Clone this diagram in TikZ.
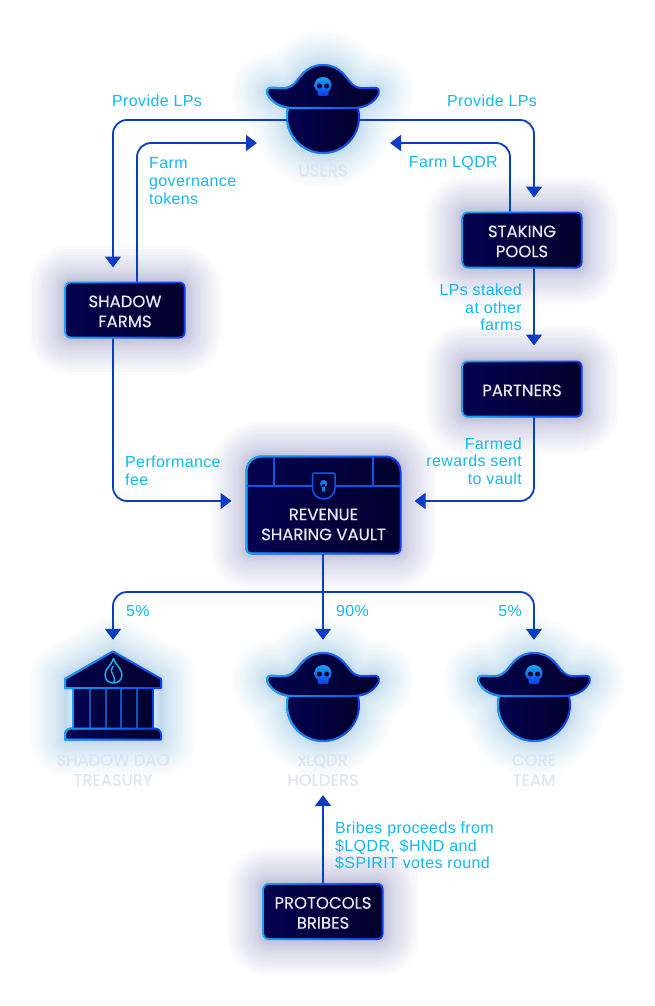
\documentclass[tikz,border=0pt]{standalone}
\usepackage{fontspec}
\setmainfont{Liberation Sans}
\newfontfamily\boxfont[FakeBold=0.35]{Poppins}
\newfontfamily\labfont[LetterSpace=2.4]{Liberation Sans}
\usetikzlibrary{arrows.meta,fadings,calc}
\definecolor{linec}{HTML}{0B3CC4}
\definecolor{labc}{HTML}{12B8F0}
\definecolor{ghost}{HTML}{E2E3F2}
\definecolor{boxtxt}{HTML}{E9E9F6}
\definecolor{darkL}{HTML}{04024F}
\definecolor{darkR}{HTML}{01012B}
\definecolor{edgeL}{HTML}{18A4EC}
\definecolor{edgeR}{HTML}{0F3BF0}
\definecolor{glowbox}{HTML}{2B2B9A}
\definecolor{glowblue}{HTML}{2A80E0}
\definecolor{flame}{HTML}{12B5EA}
\definecolor{vline}{HTML}{0C55F0}
\tikzset{
  x=1pt,y=-1pt,
  conn/.style={draw=linec,line width=1.8pt,rounded corners=14pt,-{Triangle[length=11pt,width=16pt]}},
  lab/.style={font=\labfont\fontsize{16}{17.6}\selectfont,text=labc,inner sep=0pt},
  ghostlab/.style={font=\boxfont\fontsize{16.5}{20}\selectfont,text=ghost,inner sep=0pt,align=center},
  boxout/.style={rectangle,rounded corners=6pt,left color=edgeL,right color=edgeR,inner sep=0pt,outer sep=0pt},
  boxin/.style={rectangle,rounded corners=4.4pt,left color=darkL,right color=darkR,inner sep=0pt,outer sep=0pt},
  boxtext/.style={inner sep=0pt,font=\boxfont\fontsize{16.5}{20}\selectfont,text=boxtxt,align=center},
  hole/.style={circle,inner sep=0pt,minimum size=72pt},
  edge2/.style={line width=2pt,line join=round}
}
\newcommand\gpath[1]{%
  \fill[left color=darkL,right color=darkR] #1;
  \draw[edge2,edgeR] #1;
  \draw[edge2,edgeL,path fading=east] #1;
}
\def\glowlist{2,3,5,7,9,12,15,18,21,25,29,33,38,43,48,54,60,66,72}
\newcommand\glowpath[2]{%
  \foreach \w in \glowlist {\draw[line width=\w pt,#1,opacity=0.015,line join=round] #2;}
}
\def\hatpath{(-53,-29) .. controls (-46,-30) and (-36,-26) .. (-29,-33) .. controls (-23,-39) and (-17,-52) .. (0,-52) .. controls (17,-52) and (23,-39) .. (29,-33) .. controls (36,-26) and (46,-30) .. (53,-29) .. controls (56,-29) and (56.5,-25) .. (55,-22) .. controls (50,-13) and (40,-9) .. (30,-9) -- (-30,-9) .. controls (-40,-9) and (-50,-13) .. (-55,-22) .. controls (-56.5,-25) and (-56,-29) .. (-53,-29) -- cycle}
\def\headpath{(0,0) circle[radius=36]}
\newcommand\pirate[2]{%
  \begin{scope}[shift={(#1,#2)}]
    \glowpath{glowblue}{\headpath \hatpath}
    \gpath{\headpath}
    \gpath{\hatpath}
    \fill[top color=edgeL,bottom color=edgeR,middle color=edgeL!50!edgeR]
      (0,-40) .. controls (-5.5,-40) and (-8.5,-36) .. (-8.5,-32) .. controls (-8.5,-28.5) and (-7,-26.5) .. (-5.5,-25.5) -- (-5.5,-22.5) .. controls (-5.5,-21.5) and (-5,-21) .. (-4,-21) -- (4,-21) .. controls (5,-21) and (5.5,-21.5) .. (5.5,-22.5) -- (5.5,-25.5) .. controls (7,-26.5) and (8.5,-28.5) .. (8.5,-32) .. controls (8.5,-36) and (5.5,-40) .. (0,-40) -- cycle;
    \fill[darkR] (-3.6,-31) circle[radius=2.5] (3.6,-31) circle[radius=2.5];
  \end{scope}
}
\newcommand\boxn[6]{%
  \foreach \w in \glowlist {\node[draw=glowbox,line width=\w pt,opacity=0.015,rectangle,rounded corners=6pt,inner sep=0pt,minimum width=#4pt,minimum height=#5pt] at (#2,#3) {};}
  \node[boxout,minimum width=#4pt,minimum height=#5pt] (#1) at (#2,#3) {};
  \node[boxin,minimum width=#4pt-3.6pt,minimum height=#5pt-3.6pt] (#1-b) at (#1) {};
  \node[boxtext] (#1-t) at ([yshift=-1.4pt]#1.center) {#6};
}
\begin{document}
\begin{tikzpicture}
\useasboundingbox (0,0) rectangle (654,1006);
\fill[white] (0,0) rectangle (654,1006);

% pirates
\pirate{323}{117}
\node[hole] (users) at (323,120) {};
\pirate{323}{705}
\node[hole] (xlqdr) at (323,705) {};
\pirate{534}{705}
\node[hole] (core) at (534,705) {};

% treasury
\def\treaspath{(65,678) -- (113,651) -- (161,678) -- (161,740) -- (65,740) -- cycle}
\glowpath{glowblue}{\treaspath}
\node[inner sep=0pt,minimum width=96pt,minimum height=89pt] (treasury) at (113,695.5) {};
\gpath{(73,688) rectangle (153,729)}
\foreach \x in {90,106,121,137}{\draw[line width=1.6pt,edgeL!45!edgeR!80!black] (\x,688) -- (\x,729);}
\gpath{(65,679) -- (113,651.5) -- (161,679) -- (161,688) -- (65,688) -- cycle}
\gpath{(65,739.5) -- (65,735) .. controls (65,731) and (68,728.5) .. (71,728.5) -- (155,728.5) .. controls (158,728.5) and (161,731) .. (161,735) -- (161,739.5) -- cycle}
\draw[flame,line width=1.5pt,line join=round] (113.5,658.5) .. controls (112,665) and (105,668) .. (105,675) .. controls (105,680) and (109,683) .. (113.5,683) .. controls (118,683) and (122,680) .. (122,675) .. controls (122,668) and (115,665) .. (113.5,658.5) -- cycle;
\draw[flame,line width=1.3pt] (113.5,666) .. controls (107,674) and (118,675) .. (113.5,683);

% boxes
\boxn{shadow}{125}{310}{121}{57}{SHADOW\\FARMS}
\boxn{staking}{522}{240}{121}{57}{STAKING\\POOLS}
\boxn{partners}{522}{389}{121}{57}{PARTNERS}
\boxn{protocols}{323}{911.5}{121}{57}{PROTOCOLS\\BRIBES}

% vault
\def\vaultpath{(262,456.5) -- (385,456.5) .. controls (394,456.5) and (400.5,463) .. (400.5,472) -- (400.5,548) .. controls (400.5,551.5) and (398.5,553.5) .. (395,553.5) -- (252,553.5) .. controls (248.5,553.5) and (246.5,551.5) .. (246.5,548) -- (246.5,472) .. controls (246.5,463) and (253,456.5) .. (262,456.5) -- cycle}
\glowpath{glowbox}{\vaultpath}
\node[inner sep=0pt,outer sep=0pt,minimum width=155pt,minimum height=97pt] (vault) at (323,505) {};
\gpath{\vaultpath}
\draw[vline,line width=1.5pt] (246.5,486) -- (400.5,486) (274,456.5) -- (274,486) (373,456.5) -- (373,486);
\fill[darkL!50!darkR] (312.5,474) -- (335,474) -- (335,488) .. controls (335,494) and (330,499) .. (323.7,499) .. controls (317.5,499) and (312.5,494) .. (312.5,488) -- cycle;
\draw[vline,line width=1.5pt,line join=round] (314,473) -- (333.5,473) .. controls (334.5,473) and (335,473.5) .. (335,474.5) -- (335,488) .. controls (335,494) and (330,499) .. (323.7,499) .. controls (317.5,499) and (312.5,494) .. (312.5,488) -- (312.5,474.5) .. controls (312.5,473.5) and (313,473) .. (314,473) -- cycle;
\fill[edgeL!60!edgeR] (323.7,483.5) circle[radius=3.6] (322.2,484) rectangle (325.2,491.5);
\node[boxtext] (vaulttext) at (323.5,524.5) {REVENUE\\SHARING VAULT};

% helper points
\coordinate (usersInL) at (257,143);
\coordinate (usersInR) at (390,143);
\coordinate (branch) at (323,592);

% ghost labels
\node[ghostlab] (userslab) at (323,170.5) {USERS};
\node[ghostlab] (treaslab) at (113,770) {SHADOW DAO\\TREASURY};
\node[ghostlab] (xlqdrlab) at (323,770) {xLQDR\\HOLDERS};
\node[ghostlab] (corelab) at (534,770) {CORE\\TEAM};

% connectors
\draw[conn,shorten >=14pt] (users.west) -| ([xshift=-12pt]shadow.north);
\draw[conn] ([xshift=12pt]shadow.north) |- (usersInL);
\draw[conn,shorten >=14pt] (users.east) -| ([xshift=12pt]staking.north);
\draw[conn] ([xshift=-12pt]staking.north) |- (usersInR);
\draw[conn,shorten >=15pt] ([xshift=12pt]staking.south) -- ([xshift=12pt]partners.north);
\draw[conn,shorten >=14pt] ([xshift=12pt]partners.south) |- ([yshift=4pt]vault.east);
\draw[conn,shorten >=14pt] ([xshift=-12pt]shadow.south) |- ([yshift=4pt]vault.west);
\draw[conn,shorten >=29pt] (vault.south) -- (xlqdr.north);
\draw[conn,shorten >=11pt] (branch) -| (treasury.north);
\draw[conn,shorten >=29pt] (branch) -| (core.north);
\draw[conn,shorten >=9pt] (protocols.north) -- (xlqdrlab.south);

% labels
\node[lab,anchor=west] (l1) at (112,101) {Provide LPs};
\node[lab,anchor=west] (l2) at (447,101) {Provide LPs};
\node[lab,anchor=west,align=left] (l3) at (149,181) {Farm\\governance\\tokens};
\node[lab,anchor=east] (l4) at (498,163) {Farm LQDR};
\node[lab,anchor=east,align=right] (l5) at (522,307.5) {LPs staked\\at other\\farms};
\node[lab,anchor=west,align=left] (l6) at (125,471) {Performance\\fee};
\node[lab,anchor=east,align=right] (l7) at (522,461) {Farmed\\rewards sent\\to vault};
\node[lab,anchor=west] (l8) at (126,611) {5\%};
\node[lab,anchor=west] (l9) at (336,611) {90\%};
\node[lab,anchor=east] (l10) at (522,611) {5\%};
\node[lab,anchor=west,align=left] (l11) at (335,846) {Bribes proceeds from\\\$LQDR, \$HND and\\\$SPIRIT votes round};
\end{tikzpicture}
\end{document}
